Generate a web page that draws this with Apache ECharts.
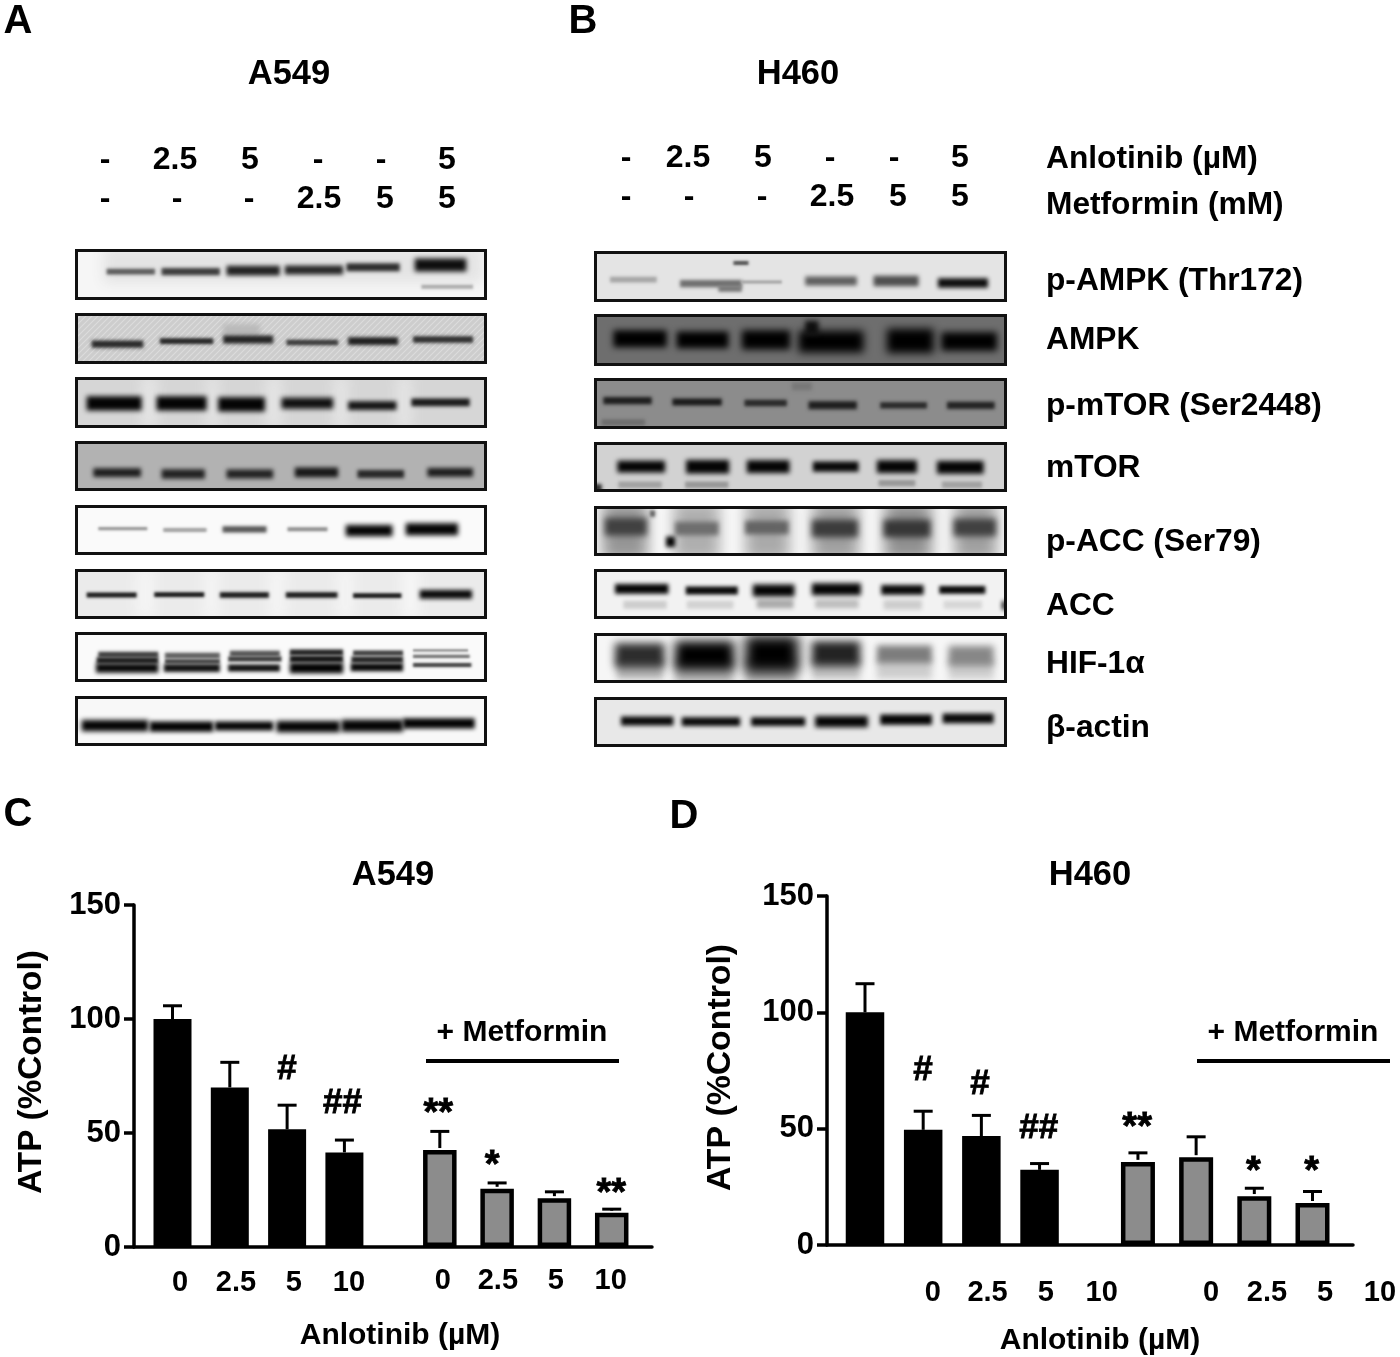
<!DOCTYPE html>
<html><head><meta charset="utf-8">
<style>html,body{margin:0;padding:0;background:#fff}#c{width:1400px;height:1357px}</style>
<script src="https://cdn.jsdelivr.net/npm/echarts@6/dist/echarts.min.js"></script>
</head><body><div id="c"></div>
<script>
// ---------- Bar chart data ----------
const doseLabels = ['0', '2.5', '5', '10'];
const a549Control = [100, 70, 51.6, 41.5];
const a549ControlSd = [5.8, 11, 10.6, 5.4];
const a549Metformin = [42.5, 25.5, 21.4, 15];
const a549MetforminSd = [8.2, 2.6, 2.8, 1.6];
const h460Control = [100, 49.5, 46.8, 32.3];
const h460ControlSd = [12.3, 8, 8.9, 2.7];
const h460Metformin = [35.7, 37.7, 21, 18];
const h460MetforminSd = [3.9, 8.8, 3.4, 5];
const a549Marks = [[2.67, 78, '#'], [3.64, 63, '##'], [5.31, 61, '**'], [6.25, 38, '*'], [8.33, 26, '**']];
const h460Marks = [[1.65, 75, '#'], [2.63, 69, '#'], [3.64, 50, '##'], [5.33, 53, '**'], [7.33, 34, '*'], [8.33, 34, '*']];

// ---------- Blot text ----------
const anlotinibA = ['-', '2.5', '5', '-', '-', '5'];
const metforminA = ['-', '-', '-', '2.5', '5', '5'];
const proteinLabels = ['p-AMPK (Thr172)', 'AMPK', 'p-mTOR (Ser2448)', 'mTOR', 'p-ACC (Ser79)', 'ACC', 'HIF-1\u03b1', '\u03b2-actin'];

// ---------- Blot bands: [laneStart, laneEnd, centre, thickness, grey] ----------
const blotA1 = [[130,1270,75,90,228],[140,285,95,14,90],[305,480,95,18,60],[500,660,92,24,35],[675,850,90,22,40],[860,1020,82,20,45],[1065,1220,75,32,15],[1085,1240,140,10,170]];
const blotA2 = [[45,1282,295,154,-1],[490,600,270,30,185],[95,250,312,18,40],[300,460,303,14,35],[490,640,298,20,35],[680,835,307,14,55],[865,1015,303,20,30],[1060,1240,298,16,45]];
const blotA3 = [[248,288,488,140,232],[443,473,488,140,232],[622,662,488,140,232],[825,862,488,140,232],[1015,1052,488,140,232],[80,245,490,36,5],[290,440,490,36,5],[475,615,493,36,5],[665,820,490,28,15],[865,1010,497,22,20],[1055,1230,487,20,25]];
const blotA4 = [[100,243,698,22,30],[305,435,702,24,35],[500,640,702,22,35],[705,835,697,24,25],[893,1033,702,20,40],[1103,1240,697,22,30]];
const blotA5 = [[115,262,86,8,150],[310,440,90,10,160],[488,620,88,16,85],[683,803,88,10,140],[858,998,92,28,5],[1038,1195,88,30,5]];
const blotA6 = [[232,280,280,130,246],[435,475,280,130,246],[630,675,280,130,246],[835,878,280,130,246],[1030,1075,280,130,248],[80,230,285,12,25],[283,433,284,12,20],[480,627,285,14,20],[678,833,285,14,20],[880,1025,287,12,20],[1080,1237,283,22,10]];
const blotA7 = [[115,295,465,14,60],[110,295,482,16,25],[108,295,505,24,10],[315,480,468,14,90],[315,480,485,12,70],[312,480,505,20,20],[510,660,462,14,80],[505,665,478,12,55],[505,660,505,18,15],[690,850,458,14,30],[690,850,478,16,15],[690,850,505,26,5],[880,1030,460,12,60],[875,1030,480,16,30],[873,1030,503,20,10],[1060,1225,452,6,130],[1060,1230,470,8,110],[1060,1235,496,10,60]];
const blotA8 = [[65,265,677,28,5],[270,460,680,26,5],[465,640,678,22,5],[650,840,680,28,5],[845,1030,677,30,5],[1030,1245,670,26,5]];
const blotB1 = [[75,215,118,14,165],[285,470,130,18,110],[470,590,125,8,160],[660,815,122,22,95],[865,1000,122,26,80],[1058,1208,128,24,15],[445,490,68,10,80],[400,470,145,16,120]];
const blotB2 = [[85,245,297,42,0],[275,430,300,42,0],[470,615,300,48,0],[640,835,305,54,0],[660,700,265,36,15],[905,1045,303,60,0],[1068,1235,305,46,0]];
const blotB3 = [[50,180,548,16,110],[620,680,440,20,120],[55,200,483,18,30],[262,410,487,18,25],[478,605,490,16,40],[670,815,497,20,30],[885,1025,497,16,40],[1085,1228,497,18,35]];
const blotB4 = [[100,230,735,16,160],[300,430,735,16,150],[880,990,730,16,150],[1070,1190,735,16,160],[27,50,745,20,40],[97,240,680,30,5],[303,432,680,34,5],[485,613,680,32,5],[683,820,680,26,10],[875,995,680,32,5],[1055,1195,682,32,5]];
const blotB5 = [[50,190,92,150,150],[265,405,92,150,175],[480,615,92,150,170],[680,820,92,150,160],[895,1040,92,150,145],[1105,1235,92,150,160],[60,185,80,44,65],[270,400,85,34,110],[480,610,82,34,100],[680,818,85,44,60],[895,1035,85,44,55],[1105,1232,82,44,65],[243,270,125,26,5],[195,210,40,16,90]];
const blotB6 = [[115,245,315,20,205],[305,445,315,20,210],[515,625,312,22,170],[690,820,312,22,190],[895,1010,315,24,205],[1075,1190,315,20,215],[90,250,267,24,5],[302,458,272,20,10],[503,628,272,30,5],[680,827,268,30,5],[888,1015,270,24,10],[1062,1200,270,20,10],[1250,1262,317,22,10]];
const blotB7 = [[95,235,505,50,175],[270,445,510,60,170],[480,635,510,60,170],[680,825,505,50,190],[875,1040,505,50,205],[1090,1225,505,50,205],[90,238,465,60,45],[270,447,465,72,0],[480,640,460,90,0],[680,825,460,62,35],[875,1040,462,44,125],[1090,1225,467,50,135]];
const blotB8 = [[108,265,662,22,10],[290,465,664,22,10],[498,660,664,22,10],[690,848,664,28,5],[885,1040,658,26,5],[1072,1225,654,24,10]];

// ---------- Layout ----------
const FONT = '"Liberation Sans", Arial, sans-serif';
const blots = [
  {b:blotA1,bg:'#f6f6f6',l:75,t:249,h:51,x:[45,1282],y:[27,180]},
  {b:blotA2,bg:'#cdcdcd',l:75,t:313,h:51,x:[45,1282],y:[218,372]},
  {b:blotA3,bg:'#d6d6d6',l:75,t:377,h:51,x:[45,1282],y:[410,565]},
  {b:blotA4,bg:'#b2b2b2',l:75,t:441,h:50,x:[45,1282],y:[603,753]},
  {b:blotA5,bg:'#fafafa',l:75,t:505,h:50,x:[45,1282],y:[15,165]},
  {b:blotA6,bg:'#ebebeb',l:75,t:569,h:50,x:[45,1282],y:[207,357]},
  {b:blotA7,bg:'#fafafa',l:75,t:632,h:50,x:[45,1282],y:[397,547]},
  {b:blotA8,bg:'#f8f8f8',l:75,t:696,h:50,x:[45,1282],y:[588,738]},
  {b:blotB1,bg:'#e4e4e4',l:594,t:251,h:51,x:[27,1265],y:[32,185]},
  {b:blotB2,bg:'#6e6e6e',l:594,t:314,h:52,x:[27,1265],y:[223,378]},
  {b:blotB3,bg:'#8c8c8c',l:594,t:378,h:51,x:[27,1265],y:[415,568]},
  {b:blotB4,bg:'#d2d2d2',l:594,t:442,h:50,x:[27,1265],y:[605,757]},
  {b:blotB5,bg:'#fbfbfb',l:594,t:506,h:50,x:[27,1265],y:[17,168]},
  {b:blotB6,bg:'#f2f2f2',l:594,t:569,h:50,x:[27,1265],y:[207,358]},
  {b:blotB7,bg:'#f6f6f6',l:594,t:633,h:50,x:[27,1265],y:[398,548]},
  {b:blotB8,bg:'#e8e8e8',l:594,t:697,h:50,x:[27,1265],y:[590,740]}
];

const hatchCanvas = document.createElement('canvas');
hatchCanvas.width = hatchCanvas.height = 6;
(function(){
  const g = hatchCanvas.getContext('2d');
  g.strokeStyle = 'rgba(255,255,255,0.30)'; g.lineWidth = 1.2;
  g.beginPath(); g.moveTo(-1,7); g.lineTo(7,-1); g.moveTo(-1,1); g.lineTo(1,-1); g.moveTo(5,7); g.lineTo(7,5); g.stroke();
})();

const SHIFT = 3000;
function bandItem(params, api) {
  const a = api.coord([api.value(0), api.value(2) - api.value(3) * 0.6]);
  const b = api.coord([api.value(1), api.value(2) + api.value(3) * 0.6]);
  const cs = params.coordSys, grey = api.value(4);
  const clip = {type:'rect', shape:{x:cs.x, y:cs.y, width:cs.width, height:cs.height}};
  const w = b[0]-a[0], h = b[1]-a[1];
  if (grey < 0) return {type:'rect', shape:{x:cs.x,y:cs.y,width:cs.width,height:cs.height}, style:{fill:{image:hatchCanvas,repeat:'repeat'}}, clipPath:clip};
  const c = 'rgb('+grey+','+grey+','+grey+')';
  // only the blurred shadow of the shape is visible, which gives the soft edge of a film band
  return {type:'group', clipPath:clip, children:[
    {type:'rect', shape:{x:a[0]-SHIFT,y:a[1],width:w,height:h}, style:{fill:c, shadowColor:c, shadowOffsetX:SHIFT, shadowBlur:Math.min(14, 1.5+h*0.3)}}
  ]};
}
function frameItem(params) {
  const cs = params.coordSys;
  return {type:'rect', shape:{x:cs.x+1.5,y:cs.y+1.5,width:cs.width-3,height:cs.height-3}, style:{fill:'none',stroke:'#111',lineWidth:3}};
}
function errorItem(params, api) {
  const p = api.coord([api.value(0), api.value(1)]);
  const q = api.coord([api.value(0), api.value(1) + api.value(2)]);
  const s = {stroke:'#000', lineWidth:3, fill:'none'};
  return {type:'group', children:[
    {type:'line', shape:{x1:p[0],y1:p[1],x2:q[0],y2:q[1]}, style:s},
    {type:'line', shape:{x1:q[0]-9.5,y1:q[1],x2:q[0]+9.5,y2:q[1]}, style:s}
  ]};
}

const grids = [], xAxes = [], yAxes = [], series = [];

function labelAxis(gi, pos, margin, max) {
  const map = new Map(pos.map((v,i)=>[v, doseLabels[i]]));
  return {type:'value', gridIndex:gi, position:'bottom', min:0, max:max, splitLine:{show:false}, axisTick:{show:false},
    axisLine:{show:false}, axisPointer:{show:false},
    axisLabel:{customValues:pos, margin:margin, hideOverlap:false, showMinLabel:true, showMaxLabel:true, color:'#000', fontFamily:FONT, fontWeight:'bold', fontSize:29,
      formatter:v=>map.get(v)}};
}

function addChart(cfg) {
  const gi = grids.length, x0 = xAxes.length;
  grids.push({left:cfg.left, top:cfg.top, width:cfg.width, height:cfg.height, outerBoundsMode:'none'});
  const ax0 = labelAxis(gi, cfg.labelsA, cfg.marginA, cfg.max);
  ax0.axisLine = {show:true, onZero:false, lineStyle:{color:'#000', width:3.5}};
  ax0.name = 'Anlotinib (\u00b5M)';
  ax0.nameLocation = 'middle';
  ax0.nameGap = cfg.nameGap;
  ax0.nameTextStyle = {color:'#000', fontFamily:FONT, fontWeight:'bold', fontSize:30, padding:[0,0,0,cfg.namePad]};
  const ax1 = labelAxis(gi, cfg.overlayMax ? [] : cfg.labelsB, cfg.marginB, cfg.max);
  if (cfg.overlayMax) ax1.axisLabel.show = false;
  xAxes.push(ax0, ax1);
  yAxes.push({type:'value', gridIndex:gi, min:0, max:150, interval:50, splitLine:{show:false},
    axisLine:{show:true, onZero:false, lineStyle:{color:'#000', width:3.5}},
    axisTick:{show:true, length:10, lineStyle:{color:'#000', width:3.5}},
    axisLabel:{color:'#000', fontFamily:FONT, fontWeight:'bold', fontSize:31, margin:13},
    name:'ATP (%Control)', nameLocation:'middle', nameGap:cfg.yNameGap, nameRotate:90,
    nameTextStyle:{color:'#000', fontFamily:FONT, fontWeight:'bold', fontSize:cfg.yNameSize, padding:[0,0,cfg.yNamePad,cfg.yNameShift]}});
  const zip = (xs, vs) => xs.map((x,i)=>[x, vs[i]]);
  series.push({type:'bar', name:'Anlotinib', xAxisIndex:x0, yAxisIndex:gi, barWidth:cfg.barW, itemStyle:{color:'#000'}, data:zip(cfg.posA, cfg.a), silent:true});
  series.push({type:'bar', name:'Anlotinib + Metformin', xAxisIndex:x0+1, yAxisIndex:gi, barWidth:cfg.barW-4.5, itemStyle:{color:'#8c8c8c', borderColor:'#000', borderWidth:4.5}, data:zip(cfg.posB, cfg.b), silent:true});
  series.push({type:'custom', xAxisIndex:x0, yAxisIndex:gi, z:1, silent:true, renderItem:errorItem, clip:false, data:cfg.posA.map((x,i)=>[x,cfg.a[i],cfg.aSd[i]])});
  series.push({type:'custom', xAxisIndex:x0, yAxisIndex:gi, z:1, silent:true, renderItem:errorItem, clip:false, data:cfg.posB.map((x,i)=>[x,cfg.b[i]+0.9,cfg.bSd[i]-0.9])});
  series.push({type:'scatter', xAxisIndex:x0, yAxisIndex:gi, symbol:'circle', symbolSize:1, itemStyle:{color:'transparent', opacity:1}, silent:true,
    data:cfg.marks.map(m=>({value:[m[0],m[1]], label:{show:true, position:'top', distance:0, formatter:m[2], color:'#000', textBorderColor:'#000', textBorderWidth:0.8, fontFamily:FONT, fontWeight:'bold',
      fontSize:m[2][0]==='*'?38:35, offset:m[2][0]==='*'?[0,26]:[0,18]}}))});
  if (cfg.overlayMax) {
    const g2 = grids.length;
    grids.push({left:cfg.left, top:cfg.top, width:cfg.overlayWidth, height:cfg.height, outerBoundsMode:'none'});
    xAxes.push(labelAxis(g2, cfg.labelsB, cfg.marginB, cfg.overlayMax));
    yAxes.push({type:'value', gridIndex:g2, show:false, min:0, max:150, splitLine:{show:false}});
  }
}

addChart({left:134, top:905, width:518, height:342, max:9.04, barW:38,
  posA:[0.672,1.672,2.672,3.672], posB:[5.337,6.337,7.337,8.337],
  labelsA:[0.803,1.78,2.79,3.75], labelsB:[5.39,6.35,7.36,8.32], marginA:21, marginB:19,
  a:a549Control, aSd:a549ControlSd, b:a549Metformin, bSd:a549MetforminSd, marks:a549Marks,
  nameGap:74, namePad:14, yNameGap:78, yNameSize:33.3, yNamePad:8, yNameShift:8});
addChart({left:827, top:896, width:526, height:349, max:9.04, barW:38.5,
  posA:[0.653,1.653,2.653,3.653], posB:[5.344,6.344,7.344,8.344],
  labelsA:[1.82,2.76,3.76,4.72], labelsB:[6.6,7.56,8.56,9.5], marginA:33, marginB:33,
  overlayWidth:570, overlayMax:9.794,
  a:h460Control, aSd:h460ControlSd, b:h460Metformin, bSd:h460MetforminSd, marks:h460Marks,
  nameGap:81, namePad:20, yNameGap:83, yNameSize:33.8, yNamePad:6, yNameShift:6});

blots.forEach(p => {
  const gi = grids.length, xi = xAxes.length, yi = yAxes.length;
  const w = p.l === 75 ? 412 : 413;
  grids.push({left:p.l, top:p.t, width:w, height:p.h, show:true, backgroundColor:p.bg, borderWidth:0, outerBoundsMode:'none'});
  xAxes.push({type:'value', gridIndex:gi, show:false, min:p.x[0], max:p.x[1], splitLine:{show:false}});
  yAxes.push({type:'value', gridIndex:gi, show:false, min:p.y[0], max:p.y[1], inverse:true, splitLine:{show:false}});
  series.push({type:'custom', xAxisIndex:xi, yAxisIndex:yi, z:2, silent:true, renderItem:bandItem, data:p.b});
  series.push({type:'custom', xAxisIndex:xi, yAxisIndex:yi, z:3, silent:true, renderItem:frameItem, data:[[p.x[0],p.y[0]]]});
});

// ---------- Text ----------
function txt(t, x, y, size, align) {
  return {type:'text', z:10, silent:true, style:{text:t, x:x, y:y+2, font:'bold '+size+'px '+FONT, fill:'#000', align:align||'center', textAlign:align||'center', verticalAlign:'middle', textVerticalAlign:'middle'}};
}
const gfx = [
  txt('A',18,20,40), txt('B',583,20,40), txt('C',18,813,40), txt('D',684,815,40),
  txt('A549',289,72,34.5), txt('H460',798,72,34.5), txt('A549',393,873,34.5), txt('H460',1090,873,34.5),
  txt('+ Metformin',522,1031,30), txt('+ Metformin',1293,1031,30),
  {type:'line', z:10, silent:true, shape:{x1:426,y1:1061,x2:619,y2:1061}, style:{stroke:'#000',lineWidth:4}},
  {type:'line', z:10, silent:true, shape:{x1:1197,y1:1061,x2:1390,y2:1061}, style:{stroke:'#000',lineWidth:4}},
  txt('Anlotinib (\u00b5M)',1046,157,31.7,'left'), txt('Metformin (mM)',1046,203,31.7,'left')
];
const rowXA1=[105,175,250,318,381,447], rowXA2=[105,177,249,319,385,447];
const rowXB1=[626,688,763,830,894,960], rowXB2=[626,689,762,832,898,960];
anlotinibA.forEach((t,i)=>{ gfx.push(txt(t,rowXA1[i],158,32), txt(t,rowXB1[i],156,32)); });
metforminA.forEach((t,i)=>{ gfx.push(txt(t,rowXA2[i],197,32), txt(t,rowXB2[i],195,32)); });
const proteinY=[279,338,404,466,540,604,662,726];
proteinLabels.forEach((t,i)=>gfx.push(txt(t,1046,proteinY[i],31.7,'left')));

const chart = echarts.init(document.getElementById('c'), null, {renderer:'canvas', width:1400, height:1357});
chart.setOption({animation:false, backgroundColor:'#fff', grid:grids, xAxis:xAxes, yAxis:yAxes, series:series, graphic:{elements:gfx}});
</script></body></html>
